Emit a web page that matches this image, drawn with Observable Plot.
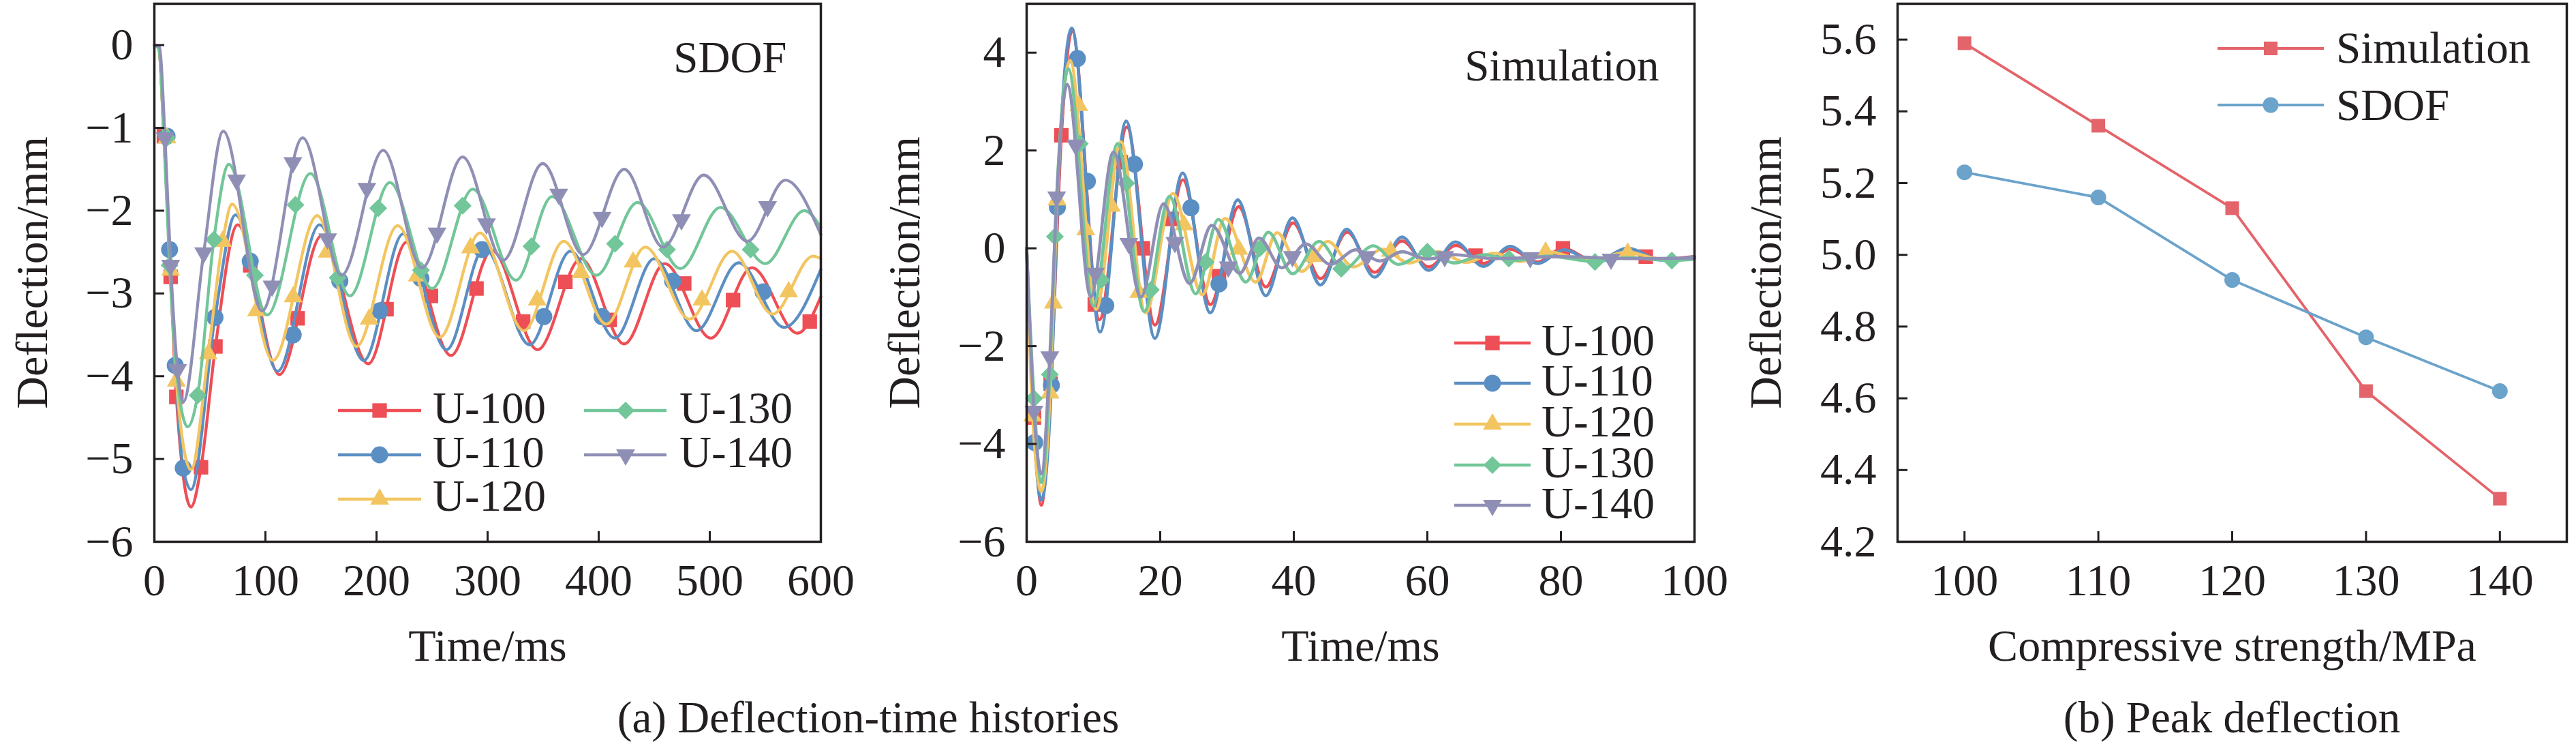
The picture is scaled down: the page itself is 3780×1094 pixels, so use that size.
<!DOCTYPE html>
<html>
<head>
<meta charset="utf-8">
<script src="https://cdn.jsdelivr.net/npm/d3@7"></script>
<script src="https://cdn.jsdelivr.net/npm/@observablehq/plot@0.6"></script>
<style>
html, body { margin: 0; padding: 0; background: #fff; }
#root { position: relative; width: 3780px; height: 1094px; overflow: hidden;
  font-family: "Liberation Serif", "Times New Roman", serif; color: #231f20; }
.panel { position: absolute; top: 0; }
.txt { position: absolute; white-space: pre; font-size: 65px; }
.sw { position: absolute; overflow: visible; }
</style>
</head>
<body>
<div id="root"></div>
<script>
// ---------------- data ----------------
const seriesNames   = ["U-100", "U-110", "U-120", "U-130", "U-140"];
const seriesColors  = ["#EE4E55", "#5B8FC3", "#F3C561", "#72C699", "#8F8FB6"];
const seriesSymbols = ["square", "circle", "triangle", "diamond2", "triangle"];
const seriesRotate  = [0, 0, 0, 0, 180];
const seriesR       = [12, 12.5, 10.3, 11.8, 10.3];

// SDOF deflection-time histories: [time (ms), deflection (mm)]
const sdofU100 = [[0,0],[4,-0.04],[8.6,-1.10],[14.7,-2.80],[19.8,-4.25],[33,-5.58],[42,-5.10],[55,-3.64],[75,-2.17],[112.6,-3.98],[150.7,-2.30],[192.6,-3.85],[227,-2.38],[267,-3.75],[304,-2.48],[345,-3.68],[384,-2.58],[423,-3.61],[459.5,-2.64],[501,-3.54],[538,-2.69],[579,-3.48],[600,-3.04]];
const sdofU110 = [[0,0],[4,-0.04],[8.6,-1.10],[13.7,-2.47],[18.8,-3.87],[26,-5.11],[33,-5.37],[54.6,-3.29],[73,-2.05],[111,-3.94],[148.7,-2.17],[188.5,-3.81],[224,-2.28],[263,-3.68],[297,-2.45],[337.8,-3.62],[374.6,-2.49],[414.5,-3.54],[450,-2.58],[488,-3.45],[526,-2.63],[567,-3.41],[600,-2.71]];
const sdofU120 = [[0,0],[4,-0.04],[8.6,-1.12],[14.7,-2.72],[19.8,-4.06],[33,-5.13],[48.5,-3.73],[61.5,-2.37],[70,-1.92],[106.7,-3.81],[146.6,-2.06],[182,-3.64],[219,-2.18],[257,-3.53],[293,-2.27],[332.7,-3.45],[368.5,-2.37],[407,-3.37],[442,-2.44],[482,-3.31],[520,-2.49],[556.6,-3.25],[593,-2.55],[600,-2.58]];
const sdofU130 = [[0,0],[4,-0.04],[8.6,-1.12],[13.7,-2.66],[20,-3.95],[30,-4.61],[39,-4.23],[53.6,-2.35],[67,-1.44],[101.6,-3.26],[140.5,-1.55],[176,-3.03],[212,-1.66],[250,-2.94],[286.7,-1.74],[325.6,-2.84],[358,-1.83],[398,-2.78],[435,-1.90],[473.6,-2.70],[509.6,-1.96],[550,-2.64],[585,-2.00],[600,-2.20]];
const sdofU140 = [[0,0],[4.5,-0.02],[9.6,-1.12],[14.7,-2.66],[20.9,-3.92],[26,-4.31],[44.4,-2.51],[62,-1.04],[97,-3.21],[133.5,-1.12],[168.5,-2.78],[206,-1.27],[241,-2.69],[277.5,-1.35],[314,-2.60],[349.6,-1.43],[386,-2.53],[423,-1.50],[458,-2.44],[494.6,-1.57],[534,-2.37],[568,-1.63],[600,-2.29]];
const sdofLines = [sdofU100, sdofU110, sdofU120, sdofU130, sdofU140];

// SDOF marker positions
const sdofMk100 = [[8.6,-1.10],[14.7,-2.80],[19.8,-4.25],[42,-5.10],[55,-3.64],[86.3,-2.66],[129,-3.30],[209,-3.19],[249,-3.03],[290,-2.94],[332,-3.34],[370,-2.86],[410,-3.32],[477,-2.88],[521,-3.08],[590,-3.34]];
const sdofMk110 = [[11.4,-1.10],[13.7,-2.47],[18.8,-3.87],[26,-5.11],[54.6,-3.29],[86.3,-2.61],[125,-3.50],[167,-2.85],[203,-3.21],[240,-2.82],[295,-2.47],[350.6,-3.28],[403,-3.28],[466.6,-2.85],[548,-2.98]];
const sdofMk120 = [[11.4,-1.12],[14.7,-2.72],[19.8,-4.06],[48.5,-3.73],[61.5,-2.37],[92,-3.21],[125,-3.04],[155.6,-2.50],[193.4,-3.31],[236.7,-2.79],[284.6,-2.45],[344.6,-3.08],[384,-2.75],[431,-2.62],[493,-3.08],[571,-2.98]];
const sdofMk130 = [[11.4,-1.12],[13.7,-2.66],[39,-4.23],[53.6,-2.35],[90.5,-2.78],[127,-1.93],[165,-2.81],[201.5,-1.97],[240,-2.72],[277.5,-1.94],[339.5,-2.43],[414.7,-2.40],[461.5,-2.47],[536.8,-2.47]];
const sdofMk140 = [[9.6,-1.12],[14.7,-2.66],[20.9,-3.92],[44.4,-2.51],[74,-1.63],[106,-2.91],[124.7,-1.42],[156,-2.34],[191.3,-1.73],[254.5,-2.27],[299,-2.16],[364,-1.80],[403,-2.08],[474.5,-2.11],[552,-1.95]];
const sdofMarks = [sdofMk100, sdofMk110, sdofMk120, sdofMk130, sdofMk140];

// Simulation deflection-time histories: [time (ms), deflection (mm)]
const simU100 = [[0,0],[1.1,-3.46],[2.2,-5.25],[3.6,-2.77],[5.2,2.31],[6.8,4.45],[10.9,-1.46],[15.0,2.48],[19.2,-1.57],[23.4,1.40],[27.5,-1.15],[31.75,0.85],[35.8,-0.79],[39.9,0.52],[44.0,-0.62],[48.0,0.33],[52.1,-0.49],[56.2,0.15],[60.2,-0.38],[64.3,0.06],[68.4,-0.31],[72.4,-0.02],[76.5,-0.28],[80.3,0.0],[85,-0.26],[90,-0.08],[95,-0.22],[100,-0.17]];
const simU110 = [[0,0],[1.2,-3.97],[2.2,-5.15],[3.7,-2.80],[4.6,0.84],[6.75,4.50],[11.0,-1.71],[14.9,2.60],[19.2,-1.84],[23.35,1.54],[27.5,-1.32],[31.6,0.99],[35.8,-0.97],[39.8,0.62],[44,-0.75],[47.9,0.39],[52.1,-0.59],[56.2,0.23],[60.2,-0.45],[64.2,0.13],[68.4,-0.37],[72.4,0.04],[76.5,-0.31],[80.5,-0.03],[85,-0.28],[90,0.0],[95,-0.24],[100,-0.17]];
const simU120 = [[0,0],[0.9,-3.43],[2.2,-4.97],[3.5,-2.96],[4.0,-1.12],[4.55,0.99],[6.5,3.84],[10.4,-1.25],[14.1,2.18],[17.8,-1.32],[21.9,1.12],[26.3,-0.95],[29.7,0.61],[34.3,-0.69],[37.5,0.32],[41.2,-0.47],[45.1,0.14],[48.9,-0.38],[53.3,-0.02],[57.3,-0.30],[61.6,-0.07],[65.8,-0.29],[70,-0.10],[74,-0.27],[78,-0.07],[84,-0.25],[90,-0.08],[95,-0.22],[100,-0.20]];
const simU130 = [[0,0],[1.1,-3.07],[2.2,-4.79],[3.47,-2.58],[4.23,0.24],[6.24,3.67],[10.0,-1.18],[13.6,2.14],[17.6,-1.29],[21.4,1.06],[25.3,-0.93],[28.7,0.59],[32.8,-0.69],[36.2,0.33],[39.8,-0.52],[43.8,0.14],[47.5,-0.42],[51.9,0.05],[55.7,-0.33],[60,-0.07],[64,-0.30],[68.5,-0.13],[73,-0.25],[78,-0.16],[85,-0.27],[90,-0.19],[96.6,-0.25],[100,-0.22]];
const simU140 = [[0,0],[1.1,-3.33],[2.2,-4.61],[3.47,-2.22],[4.5,1.05],[6.07,3.35],[9.6,-0.99],[13.0,1.97],[17.1,-1.00],[20.5,0.91],[24.4,-0.72],[27.7,0.47],[31.9,-0.51],[34.8,0.21],[38.2,-0.40],[41.8,0.09],[45.5,-0.33],[49.3,-0.03],[52.9,-0.26],[56.2,-0.07],[60,-0.22],[64,-0.13],[70,-0.21],[80,-0.17],[90,-0.21],[100,-0.20]];
const simLines = [simU100, simU110, simU120, simU130, simU140];

// Simulation marker positions
const simMk100 = [[1.1,-3.46],[3.6,-2.77],[5.2,2.31],[10.2,-1.15],[14.1,1.76],[17.4,0.0],[21.7,0.60],[28.8,-0.57],[67.2,-0.15],[80.3,0.0],[92.7,-0.17]];
const simMk110 = [[1.2,-3.97],[3.7,-2.80],[4.6,0.84],[7.6,3.88],[9.1,1.37],[11.85,-1.17],[16.15,1.72],[24.6,0.83],[28.8,-0.73]];
const simMk120 = [[0.9,-3.43],[3.5,-2.96],[4.0,-1.12],[4.55,0.99],[7.8,2.92],[8.85,0.38],[12.7,0.86],[16.8,-0.90],[23.55,0.48],[31.75,-0.02],[43.1,-0.17],[54.5,-0.06],[77.7,-0.08],[90,-0.10]];
const simMk130 = [[1.1,-3.07],[3.47,-2.58],[4.23,0.24],[7.95,2.14],[11.2,-0.65],[14.9,1.33],[18.6,-0.85],[26.8,-0.28],[34.9,0.0],[47.1,-0.42],[60,-0.07],[72.2,-0.21],[85.1,-0.28],[96.6,-0.25]];
const simMk140 = [[1.1,-3.33],[3.47,-2.22],[4.5,1.05],[7.35,2.11],[10.3,-0.51],[15.3,0.10],[22.2,0.12],[30.2,-0.38],[39.8,-0.17],[50.9,-0.17],[62.6,-0.17],[75.4,-0.19],[87.5,-0.22]];
const simMarks = [simMk100, simMk110, simMk120, simMk130, simMk140];

// tick values
const timeTicksSdof = [0, 100, 200, 300, 400, 500, 600];
const timeTicksSim  = [0, 20, 40, 60, 80, 100];
const defTicksSdof  = [-6, -5, -4, -3, -2, -1, 0];
const defTicksSim   = [-6, -4, -2, 0, 2, 4];

// peak deflection vs compressive strength
const strength  = [100, 110, 120, 130, 140];
const peakSim   = [5.59, 5.36, 5.13, 4.62, 4.32];
const peakSdof  = [5.23, 5.16, 4.93, 4.77, 4.62];
const peakNames = ["Simulation", "SDOF"];
const peakColors = ["#E3646A", "#6BA3CB"];
const peakSymbols = ["square", "circle"];
const peakR = [11.3, 11.5];
const peakTicks = [4.2, 4.4, 4.6, 4.8, 5.0, 5.2, 5.4, 5.6];

// ---------------- drawing ----------------
const FONT = "'Liberation Serif', 'Times New Roman', serif";
const INK = "#231f20";
const root = document.getElementById("root");
const H = 1000, FRAME_TOP = 5, FRAME_BOTTOM = 794;

function rows(arr) { return arr.map(([t, v]) => ({t, v})); }

function baseStyle() {
  return {fontFamily: FONT, fontSize: "66px", color: INK, background: "transparent", overflow: "visible"};
}

function commonAxes({xTicks, yTicks, xLabel, yLabel, frameW, frameH, yFormat, yLabelOffset}) {
  return [
    Plot.tickX(xTicks, {x: d => d, insetTop: frameH - 15, stroke: INK, strokeWidth: 3}),
    Plot.tickY(yTicks, {y: d => d, insetRight: frameW - 15, stroke: INK, strokeWidth: 3}),
    Plot.axisX({ticks: xTicks, tickSize: 0, tickPadding: 32, tickFormat: d3.format("d"), label: xLabel, labelAnchor: "center", labelArrow: "none", labelOffset: 174}),
    Plot.axisY({ticks: yTicks, tickSize: 0, tickPadding: 31, tickFormat: yFormat, label: yLabel, labelAnchor: "center", labelArrow: "none", labelOffset: yLabelOffset}),
    Plot.frame({stroke: INK, strokeWidth: 3.5})
  ];
}

function timePlot({lines, marks, xDomain, xTicks, yDomain, yTicks, tag, tagDx, tagDy, width, mL, mR, lw}) {
  const frameW = width - mL - mR, frameH = FRAME_BOTTOM - FRAME_TOP;
  const m = [];
  lines.forEach((L, i) => {
    m.push(Plot.line(rows(L), {x: "t", y: "v", stroke: seriesColors[i], strokeWidth: lw, curve: "monotone-x"}));
    m.push(Plot.dot(rows(marks[i]), {x: "t", y: "v", fill: seriesColors[i], stroke: "none", symbol: seriesSymbols[i], r: seriesR[i], rotate: seriesRotate[i]}));
  });
  m.push(...commonAxes({xTicks, yTicks, xLabel: "Time/ms", yLabel: "Deflection/mm", frameW, frameH, yFormat: d3.format("d"), yLabelOffset: 204}));
  m.push(Plot.text([tag], {text: d => d, frameAnchor: "top-right", textAnchor: "end", lineAnchor: "top", dx: tagDx, dy: tagDy, fontSize: 65, fill: INK}));
  return Plot.plot({
    width, height: H,
    marginLeft: mL, marginRight: mR, marginTop: FRAME_TOP, marginBottom: H - FRAME_BOTTOM,
    style: baseStyle(),
    x: {domain: xDomain},
    y: {domain: yDomain},
    marks: m
  });
}

function peakPlot({width, mL, mR}) {
  const frameW = width - mL - mR, frameH = FRAME_BOTTOM - FRAME_TOP;
  const series = [peakSim, peakSdof];
  const m = [];
  series.forEach((vals, i) => {
    const data = strength.map((s, k) => ({s, v: vals[k]}));
    m.push(Plot.line(data, {x: "s", y: "v", stroke: peakColors[i], strokeWidth: 3.8}));
    m.push(Plot.dot(data, {x: "s", y: "v", fill: peakColors[i], stroke: "none", symbol: peakSymbols[i], r: peakR[i]}));
  });
  m.push(...commonAxes({xTicks: strength, yTicks: peakTicks, xLabel: "Compressive strength/MPa", yLabel: "Deflection/mm", frameW, frameH, yFormat: d3.format(".1f"), yLabelOffset: 218}));
  return Plot.plot({
    width, height: H,
    marginLeft: mL, marginRight: mR, marginTop: FRAME_TOP, marginBottom: H - FRAME_BOTTOM,
    style: baseStyle(),
    x: {domain: [95, 145]},
    y: {domain: [4.2, 5.7]},
    marks: m
  });
}

function place(node, left) {
  const d = document.createElement("div");
  d.className = "panel";
  d.style.left = left + "px";
  d.appendChild(node);
  root.appendChild(d);
}

place(timePlot({lines: sdofLines, marks: sdofMarks, xDomain: [0, 600], xTicks: timeTicksSdof,
  yDomain: [-6, 0.5], yTicks: defTicksSdof, tag: "SDOF", tagDx: -50, tagDy: 54,
  width: 1300, mL: 226, mR: 96, lw: 4.3}), 0);
place(timePlot({lines: simLines, marks: simMarks, xDomain: [0, 100], xTicks: timeTicksSim,
  yDomain: [-6, 5], yTicks: defTicksSim, tag: "Simulation", tagDx: -52, tagDy: 66,
  width: 1300, mL: 226, mR: 94, lw: 4.6}), 1280);
place(peakPlot({width: 1220, mL: 224, mR: 14}), 2560);

// ---------------- legends & captions (HTML) ----------------
const symbolTypes = {square: d3.symbolSquare, circle: d3.symbolCircle, triangle: d3.symbolTriangle, diamond2: d3.symbolDiamond2};
const ASC = 0.891 * 65, CONTENT = 1.107 * 65;

// one text block (possibly several lines) whose first baseline sits at `baseline`
function addTextBlock(lines, left, baseline, lineHeight, anchor) {
  const t = document.createElement("div");
  t.className = "txt";
  t.textContent = lines.join("\n");
  t.style.lineHeight = lineHeight + "px";
  t.style.top = (baseline - ((lineHeight - CONTENT) / 2 + ASC)) + "px";
  t.style.left = left + "px";
  if (anchor === "middle") t.style.transform = "translateX(-50%)";
  root.appendChild(t);
}

function addSwatch({x1, x2, mx, y, color, symbol, R, rotate, lw}) {
  const w = x2 - x1;
  const svg = d3.create("svg").attr("class", "sw").attr("width", w).attr("height", 40)
    .style("left", x1 + "px").style("top", (y - 20) + "px");
  svg.append("line").attr("x1", 0).attr("x2", w).attr("y1", 20).attr("y2", 20)
    .attr("stroke", color).attr("stroke-width", lw);
  svg.append("path").attr("d", d3.symbol(symbolTypes[symbol], Math.PI * R * R)())
    .attr("fill", color)
    .attr("transform", `translate(${mx - x1},20) rotate(${rotate})`);
  root.appendChild(svg.node());
}

// panel 1 legend (two columns)
const leg1Col = [0, 0, 0, 1, 1];
const leg1Row = [0, 1, 2, 0, 1];
const leg1Cols = [{x1: 496, x2: 618, mx: 557, tx: 635}, {x1: 857, x2: 978, mx: 918, tx: 997}];
const leg1Rows = [602.3, 667, 731.7];
seriesNames.forEach((name, i) => {
  const c = leg1Cols[leg1Col[i]], y = leg1Rows[leg1Row[i]];
  addSwatch({x1: c.x1, x2: c.x2, mx: c.mx, y, color: seriesColors[i], symbol: seriesSymbols[i], R: seriesR[i], rotate: seriesRotate[i], lw: 4.3});
});
addTextBlock(seriesNames.slice(0, 3), 635, leg1Rows[0] + 18, 64.7, "start");
addTextBlock(seriesNames.slice(3), 997, leg1Rows[0] + 18, 64.7, "start");

// panel 2 legend (one column)
const leg2Rows = [502.6, 562.3, 622, 681.6, 741.3];
seriesNames.forEach((name, i) => {
  addSwatch({x1: 2134, x2: 2246, mx: 2190, y: leg2Rows[i], color: seriesColors[i], symbol: seriesSymbols[i], R: seriesR[i], rotate: seriesRotate[i], lw: 4.6});
});
addTextBlock(seriesNames, 2262, leg2Rows[0] + 19, 59.675, "start");

// panel 3 legend
const leg3Rows = [70.7, 154.3];
peakNames.forEach((name, i) => {
  addSwatch({x1: 3254, x2: 3410, mx: 3332, y: leg3Rows[i], color: peakColors[i], symbol: peakSymbols[i], R: peakR[i], rotate: 0, lw: 3.8});
});
addTextBlock(peakNames, 3428, leg3Rows[0] + 22, 83.6, "start");

// captions
addTextBlock(["(a) Deflection-time histories"], 1274, 1074, 70, "middle");
addTextBlock(["(b) Peak deflection"], 3275, 1074, 70, "middle");
</script>
</body>
</html>
